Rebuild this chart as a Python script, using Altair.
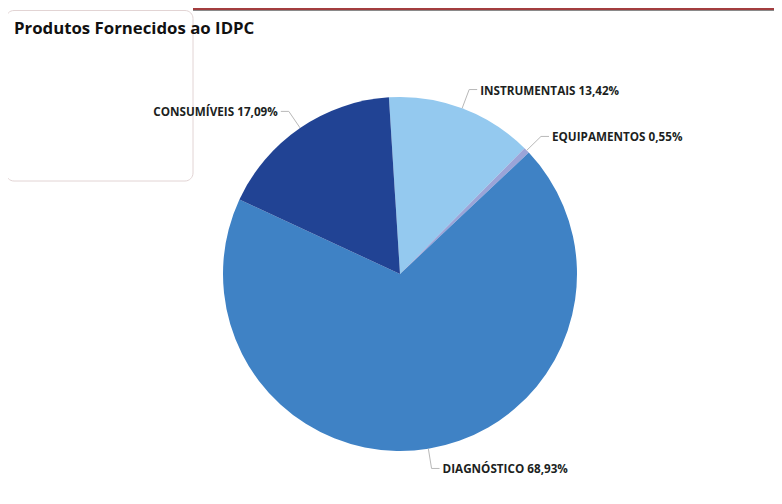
import math
import altair as alt
import pandas as pd

categories = ["INSTRUMENTAIS", "EQUIPAMENTOS", "DIAGNÓSTICO", "CONSUMÍVEIS"]
values = [13.42, 0.55, 68.93, 17.09]
colors = ["#94C9EF", "#9BA4D8", "#3F82C5", "#214394"]
title_text = "Produtos Fornecidos ao IDPC"

W, H = 766, 488
CX, CY = 392, 266
R = 177
R2 = 197
START = -3.6 * math.pi / 180

df = pd.DataFrame({"cat": categories, "value": values, "order": list(range(len(categories)))})

base = alt.Chart(df)

pie = base.mark_arc(outerRadius=R, stroke=None).encode(
    theta=alt.Theta("value:Q", stack=True, scale=alt.Scale(range=[START, START + 2 * math.pi])),
    order=alt.Order("order:Q"),
    color=alt.Color("cat:N", scale=alt.Scale(domain=categories, range=colors), legend=None),
    x=alt.value(CX),
    y=alt.value(CY),
)

geo = (
    base.transform_joinaggregate(total="sum(value)")
    .transform_window(cum="sum(value)", sort=[alt.SortField("order")], frame=[None, 0])
    .transform_calculate(
        mid=f"{START} + 2*PI*(datum.cum - datum.value/2)/datum.total",
    )
    .transform_calculate(
        side="sin(datum.mid) >= 0 ? 1 : -1",
        x1=f"{CX} + {R}*sin(datum.mid)",
        y1=f"{CY} - {R}*cos(datum.mid)",
        x2=f"{CX} + {R2}*sin(datum.mid)",
        y2=f"{CY} - {R2}*cos(datum.mid)",
    )
    .transform_calculate(
        x3="datum.x2 + 8*datum.side",
        xt="datum.x2 + 11*datum.side",
        yt="datum.y2 + 1",
        label="datum.cat + ' ' + replace(format(datum.value, '.2f'), '.', ',') + '%'",
    )
)

radial = geo.mark_rule(color="#B8B8B8", strokeWidth=1).encode(
    x=alt.X("x1:Q", scale=None), y=alt.Y("y1:Q", scale=None),
    x2="x2:Q", y2="y2:Q",
)
horiz = geo.mark_rule(color="#B8B8B8", strokeWidth=1).encode(
    x=alt.X("x2:Q", scale=None), y=alt.Y("y2:Q", scale=None),
    x2="x3:Q", y2="y2:Q",
)

txt_kw = dict(font="Open Sans", fontSize=11.7, fontWeight="bold", color="#201F1E", baseline="middle")
right_txt = geo.transform_filter("datum.side > 0").mark_text(align="left", **txt_kw).encode(
    x=alt.X("xt:Q", scale=None), y=alt.Y("yt:Q", scale=None), text="label:N"
)
left_txt = geo.transform_filter("datum.side < 0").mark_text(align="right", **txt_kw).encode(
    x=alt.X("xt:Q", scale=None), y=alt.Y("yt:Q", scale=None), text="label:N"
)

deco = pd.DataFrame({"k": [1]})
red_band = alt.Chart(deco).mark_rect(color="#A33D3F").encode(
    x=alt.value(185), x2=alt.value(W), y=alt.value(0), y2=alt.value(2)
)
gray_line = alt.Chart(deco).mark_rule(color="#8A8A8A", strokeWidth=1).encode(
    x=alt.value(185), x2=alt.value(W), y=alt.value(2.5)
)
card = alt.Chart(deco).mark_rect(
    fill="white", fillOpacity=0, stroke="#E2D4D4", strokeWidth=1, cornerRadius=8
).encode(x=alt.value(-2), x2=alt.value(185), y=alt.value(2.5), y2=alt.value(173))

title = alt.Chart(pd.DataFrame({"t": [title_text]})).mark_text(
    align="left", baseline="alphabetic", font="Open Sans", fontSize=16.8, fontWeight="bold", color="#111111"
).encode(text="t:N", x=alt.value(6), y=alt.value(26))

chart = alt.layer(red_band, gray_line, card, pie, radial, horiz, right_txt, left_txt, title).properties(
    width=W, height=H, autosize=alt.AutoSizeParams(type="none"), padding=0, background="white"
).configure_view(stroke=None)

chart.save("out.html", embed_options={"renderer": "svg", "actions": False})
